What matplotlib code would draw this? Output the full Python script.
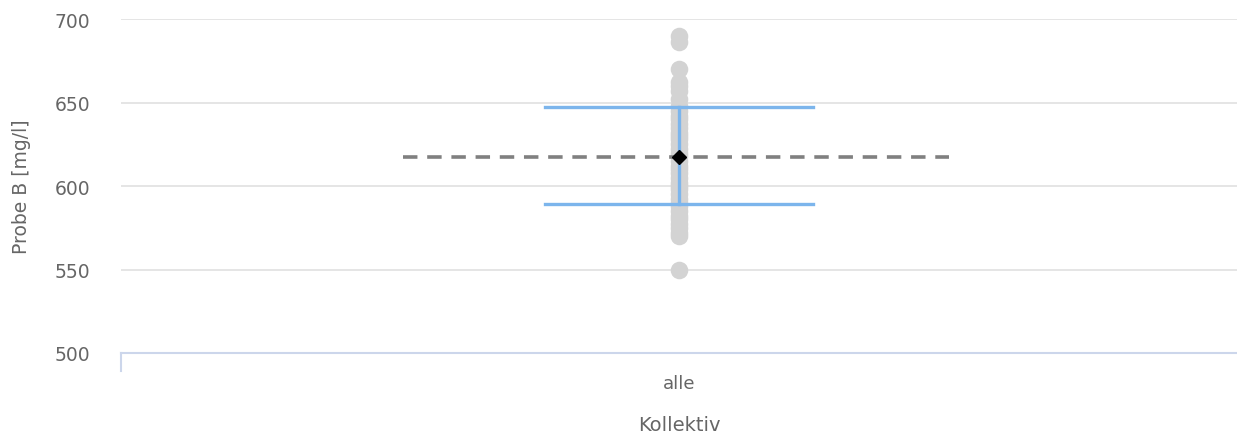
import numpy as np
import matplotlib.pyplot as plt

# data
category = ["alle"]
values = [690, 686, 670, 662, 660, 657, 652, 648, 645, 642, 640, 637, 635, 632,
          630, 628, 625, 622, 620, 618, 615, 612, 610, 608, 605, 602, 600, 598,
          595, 592, 590, 588, 585, 582, 580, 577, 575, 572, 570, 550]
mean_val = 617.5
err_low = 589
err_high = 647.5
yticks = [500, 550, 600, 650, 700]

fig = plt.figure(figsize=(12.37, 4.39), dpi=100)
ax = fig.add_axes([121/1237, (439-354)/439, 1 - 121/1237, (354-20)/439])

x0 = 0
ax.scatter(np.full(len(values), x0), values, s=160, color="#d3d3d3", lw=0, zorder=2)

# dashed mean line
ax.plot([x0 - 0.247, x0 + 0.242], [mean_val, mean_val], ls=(0, (4, 2.7)), color="#808080",
        lw=2.6, zorder=3)

# error bar
ax.plot([x0, x0], [err_low, err_high], color="#7cb5ec", lw=2.4, zorder=4)
ax.plot([x0 - 0.12, x0 + 0.12], [err_high, err_high], color="#7cb5ec", lw=2.4, zorder=4)
ax.plot([x0 - 0.12, x0 + 0.12], [err_low, err_low], color="#7cb5ec", lw=2.4, zorder=4)
ax.plot([x0], [mean_val], marker="D", ms=7, color="black", zorder=5)

ax.set_xlim(-0.5, 0.5)
ax.set_ylim(500, 700)
ax.set_yticks(yticks)
for t in yticks[1:]:
    ax.axhline(t, color="#e3e3e3", lw=1.3, zorder=0)

for s in ["top", "right", "left"]:
    ax.spines[s].set_visible(False)
ax.spines["bottom"].set_color("#ccd6eb")
ax.spines["bottom"].set_linewidth(1.5)

ax.set_xticks([x0])
ax.set_xticklabels(category)
ax.tick_params(axis="x", length=0, pad=15, labelsize=13, labelcolor="#666666")
ax.tick_params(axis="y", length=0, pad=22, labelsize=13.5, labelcolor="#666666")
ax.plot([0, 0], [0, -0.055], transform=ax.transAxes, color="#ccd6eb", lw=1.5, clip_on=False)

ax.set_xlabel("Kollektiv", fontsize=14, color="#666666", labelpad=17)
ax.set_ylabel("Probe B [mg/l]", fontsize=13.5, color="#666666", labelpad=17)

plt.savefig("out.png", dpi=100)
